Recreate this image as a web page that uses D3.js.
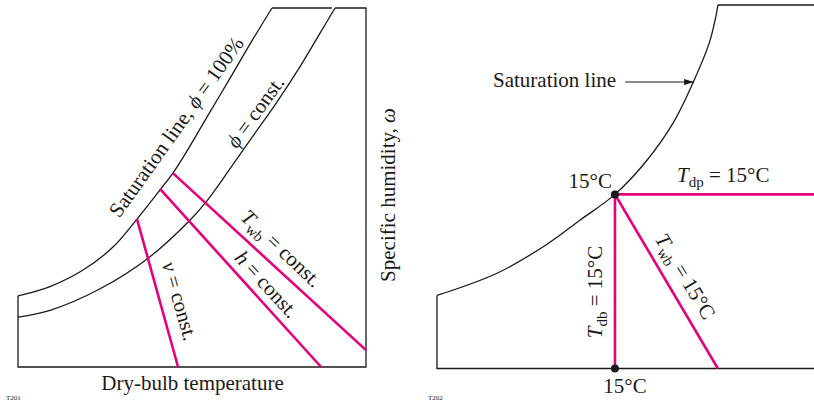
<!DOCTYPE html>
<html>
<head>
<meta charset="utf-8">
<script src="https://cdn.jsdelivr.net/npm/d3@7"></script>
<style>
  html, body { margin: 0; padding: 0; background: #fff; }
  svg { display: block; }
  text { font-family: "Liberation Serif", "DejaVu Serif", serif; fill: #1a1a1a; }
</style>
</head>
<body>
<svg id="chart" width="814" height="401"></svg>
<script>
// ---------- DATA (abstract chart units, 0–100 on each axis) ----------
// Left panel: psychrometric chart, constant-property lines
const leftSaturation = [[0,19.8],[9.2,22.4],[18.7,27.0],[27.3,33.4],[34.2,41.2],[40.8,49.3],
  [44.5,54.0],[48.9,60.7],[54.0,69.1],[60.6,79.9],[67.0,90.5],[73.0,100]];
const leftPhiConst = [[0,13.9],[9.2,15.8],[23.6,21.8],[37.1,30.1],[49.4,40.9],[54.3,46.3],
  [60.9,55.2],[67.5,64.3],[74.4,73.8],[81.0,83.6],[86.8,93.0],[91.1,100]];
const leftFrameA = [[0,19.8],[0,0],[100,0],[100,100],[91.1,100]];
const leftFrameB = [[73.0,100],[90.2,100]];
const leftVLine = [[34.2,41.2],[46.0,0]];
const leftHLine = [[40.8,49.6],[87.1,0]];
const leftTwbLine = [[44.5,54.0],[100,4.7]];

// Right panel: 15 °C state point
const rightSaturation = [[0,20.1],[15.9,26.2],[29.2,34.2],[37.9,40.8],[47.2,47.9],[55.7,57.3],
  [62.6,67.5],[68.2,79.3],[72.2,89.5],[74.0,97.0],[74.5,100]];
const rightFrameA = [[0,20.1],[0,0],[100,0]];
const rightFrameB = [[74.5,100],[100,100]];
const statePoint = [47.2,47.9];
const dbPoint = [47.2,0];
const dpLine = [[47.2,47.9],[100,47.9]];
const dbLine = [[47.2,47.9],[47.2,0]];
const wbLine = [[47.2,47.9],[74.5,0]];
const arrowLine = [[49.9,78.8],[68.2,78.8]];

const tempLabel = "15°C";

// ---------- SCALES ----------
const xL = d3.scaleLinear().domain([0,100]).range([18,366]);
const yL = d3.scaleLinear().domain([0,100]).range([367,8]);
const xR = d3.scaleLinear().domain([0,100]).range([437,814]);
const yR = d3.scaleLinear().domain([0,100]).range([368.5,5]);

const PINK = "#e5007d";
const INK = "#1a1a1a";

const svg = d3.select("#chart");

const lineL = d3.line().x(d => xL(d[0])).y(d => yL(d[1]));
const curveL = d3.line().x(d => xL(d[0])).y(d => yL(d[1])).curve(d3.curveCatmullRom.alpha(0.5));
const lineR = d3.line().x(d => xR(d[0])).y(d => yR(d[1]));
const curveR = d3.line().x(d => xR(d[0])).y(d => yR(d[1])).curve(d3.curveCatmullRom.alpha(0.5));

const gL = svg.append("g");
const gR = svg.append("g");

// left black lines
[[leftFrameA, lineL],[leftFrameB, lineL],[leftSaturation, curveL],[leftPhiConst, curveL]].forEach(([d, gen]) => {
  gL.append("path").attr("d", gen(d)).attr("fill","none").attr("stroke",INK).attr("stroke-width",1.3);
});
// left pink lines
[leftVLine, leftHLine, leftTwbLine].forEach(d => {
  gL.append("path").attr("d", lineL(d)).attr("fill","none").attr("stroke",PINK).attr("stroke-width",2.6);
});

// right black lines
[[rightFrameA, lineR],[rightFrameB, lineR],[rightSaturation, curveR]].forEach(([d, gen]) => {
  gR.append("path").attr("d", gen(d)).attr("fill","none").attr("stroke",INK).attr("stroke-width",1.3);
});
[dpLine, dbLine, wbLine].forEach(d => {
  gR.append("path").attr("d", lineR(d)).attr("fill","none").attr("stroke",PINK).attr("stroke-width",2.6);
});
[statePoint, dbPoint].forEach(p => {
  gR.append("circle").attr("cx", xR(p[0])).attr("cy", yR(p[1])).attr("r", 4).attr("fill", INK);
});
// arrow
svg.append("defs").append("marker").attr("id","arr").attr("viewBox","0 0 10 6")
  .attr("refX",10).attr("refY",3).attr("markerWidth",10).attr("markerHeight",6)
  .attr("markerUnits","userSpaceOnUse").attr("orient","auto")
  .append("path").attr("d","M0,0 L10,3 L0,6 Z").attr("fill",INK);
gR.append("path").attr("d", lineR(arrowLine)).attr("stroke",INK).attr("stroke-width",1.1)
  .attr("fill","none").attr("marker-end","url(#arr)");

// ---------- TEXT ----------
function label(g, x, y, angle, anchor, parts) {
  const t = g.append("text").attr("transform", `translate(${x},${y}) rotate(${angle})`)
    .attr("text-anchor", anchor).attr("font-size", 21);
  parts.forEach(p => {
    const s = t.append("tspan").text(p.t);
    if (p.i) s.attr("font-style","italic");
    if (p.sub) s.attr("font-size", 15).attr("dy", 5);
    if (p.up) s.attr("dy", -5);
  });
  return t;
}

label(gL, 182, 131, -54.5, "middle", [{t:"Saturation line,  "},{t:"ϕ",i:1},{t:" = 100%"}]);
label(gL, 261, 116, -54, "middle", [{t:"ϕ",i:1},{t:" = const."}]);
label(gL, 276.5, 253.5, 43.4, "middle", [{t:"T",i:1},{t:"wb",sub:1},{t:" = const.",up:1}]);
label(gL, 261.5, 289, 47.4, "middle", [{t:"h",i:1},{t:" = const."}]);
label(gL, 173, 303, 74, "middle", [{t:"v",i:1},{t:" = const."}]);
label(gL, 192.5, 390, 0, "middle", [{t:"Dry-bulb temperature"}]);
label(gL, 395, 195, -90, "middle", [{t:"Specific humidity, "},{t:"ω",i:1}]);

label(gR, 493, 87, 0, "start", [{t:"Saturation line"}]);
label(gR, 612, 188, 0, "end", [{t:tempLabel}]);
label(gR, 677, 182, 0, "start", [{t:"T",i:1},{t:"dp",sub:1},{t:" = " + tempLabel,up:1}]);
label(gR, 602, 292, -90, "middle", [{t:"T",i:1},{t:"db",sub:1},{t:" = " + tempLabel,up:1}]);
label(gR, 679.5, 280, 58.7, "middle", [{t:"T",i:1},{t:"wb",sub:1},{t:" = " + tempLabel,up:1}]);
label(gR, 625, 393, 0, "middle", [{t:tempLabel}]);

// figure codes at the bottom edge
svg.append("text").attr("x", 6).attr("y", 399.5).attr("font-size", 7).attr("fill","#555").text("T201");
svg.append("text").attr("x", 428).attr("y", 399.5).attr("font-size", 7).attr("fill","#555").text("T202");
</script>
</body>
</html>
